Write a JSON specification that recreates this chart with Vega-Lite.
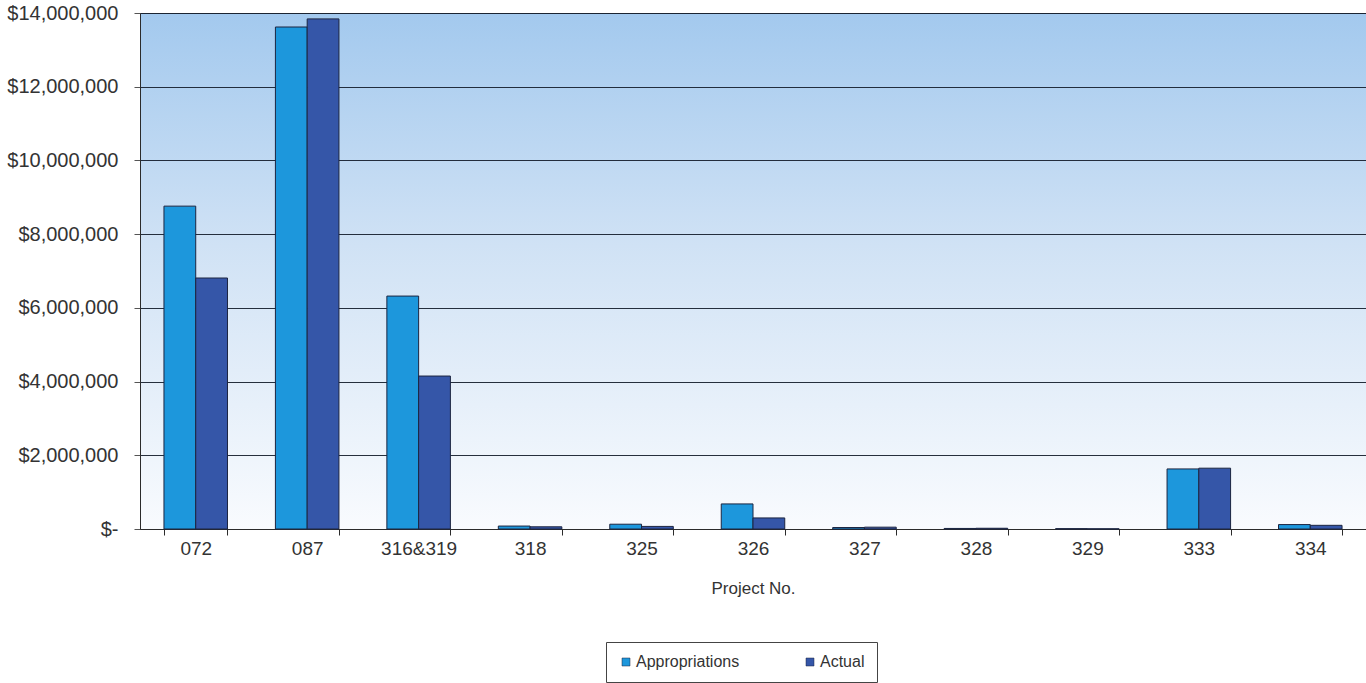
{
  "$schema": "https://vega.github.io/schema/vega-lite/v6.json",
  "width": 1226,
  "height": 516,
  "autosize": {"type": "none"},
  "padding": {"left": 140, "top": 13, "right": 0, "bottom": 154},
  "background": "#ffffff",
  "config": {
    "font": "Liberation Sans",
    "view": {
      "stroke": "#2b2b2b",
      "strokeWidth": 1,
      "fill": {
        "gradient": "linear",
        "x1": 0, "y1": 0, "x2": 0, "y2": 1,
        "stops": [
          {"offset": 0, "color": "#a3c9ee"},
          {"offset": 0.45, "color": "#d0e2f5"},
          {"offset": 1, "color": "#f9fbfe"}
        ]
      }
    }
  },
  "data": {
    "values": [
      {"project": "072", "series": "Appropriations", "amount": 8760000},
      {"project": "072", "series": "Actual", "amount": 6810000},
      {"project": "087", "series": "Appropriations", "amount": 13620000},
      {"project": "087", "series": "Actual", "amount": 13840000},
      {"project": "316&319", "series": "Appropriations", "amount": 6320000},
      {"project": "316&319", "series": "Actual", "amount": 4150000},
      {"project": "318", "series": "Appropriations", "amount": 80000},
      {"project": "318", "series": "Actual", "amount": 60000},
      {"project": "325", "series": "Appropriations", "amount": 130000},
      {"project": "325", "series": "Actual", "amount": 70000},
      {"project": "326", "series": "Appropriations", "amount": 680000},
      {"project": "326", "series": "Actual", "amount": 300000},
      {"project": "327", "series": "Appropriations", "amount": 40000},
      {"project": "327", "series": "Actual", "amount": 50000},
      {"project": "328", "series": "Appropriations", "amount": 15000},
      {"project": "328", "series": "Actual", "amount": 20000},
      {"project": "329", "series": "Appropriations", "amount": 10000},
      {"project": "329", "series": "Actual", "amount": 5000},
      {"project": "333", "series": "Appropriations", "amount": 1630000},
      {"project": "333", "series": "Actual", "amount": 1650000},
      {"project": "334", "series": "Appropriations", "amount": 120000},
      {"project": "334", "series": "Actual", "amount": 100000}
    ]
  },
  "mark": {"type": "bar", "stroke": "#1c2540", "strokeWidth": 1},
  "encoding": {
    "x": {
      "field": "project",
      "type": "nominal",
      "sort": null,
      "scale": {"paddingInner": 0.43, "paddingOuter": 0.215},
      "axis": {
        "title": "Project No.",
        "titleFont": "Liberation Sans",
        "titleFontSize": 17,
        "titleFontWeight": "normal",
        "titleColor": "#333333",
        "titlePadding": 22,
        "labelAngle": 0,
        "labelFontSize": 19,
        "labelColor": "#333333",
        "labelPadding": 4,
        "tickBand": "extent",
        "tickSize": 6,
        "tickColor": "#2b2b2b",
        "domainColor": "#2b2b2b",
        "grid": false
      }
    },
    "xOffset": {
      "field": "series",
      "type": "nominal",
      "sort": ["Appropriations", "Actual"],
      "scale": {"paddingInner": 0, "paddingOuter": 0}
    },
    "y": {
      "field": "amount",
      "type": "quantitative",
      "scale": {"domain": [0, 14000000], "nice": false},
      "axis": {
        "title": null,
        "values": [0, 2000000, 4000000, 6000000, 8000000, 10000000, 12000000, 14000000],
        "labelExpr": "datum.value == 0 ? '$-' : '$' + format(datum.value, ',')",
        "labelFontSize": 20,
        "labelColor": "#333333",
        "labelPadding": 16,
        "tickSize": 6,
        "tickColor": "#555555",
        "domainColor": "#2b2b2b",
        "gridColor": "#1a2433",
        "gridWidth": 1,
        "gridOpacity": 0.95
      }
    },
    "color": {
      "field": "series",
      "type": "nominal",
      "sort": ["Appropriations", "Actual"],
      "scale": {"domain": ["Appropriations", "Actual"], "range": ["#1d97dc", "#3556a8"]},
      "legend": {
        "title": null,
        "orient": "none",
        "legendX": 466,
        "legendY": 629,
        "direction": "horizontal",
        "symbolType": "square",
        "symbolSize": 64,
        "symbolStrokeColor": "#1c2540",
        "symbolStrokeWidth": 0.5,
        "labelFontSize": 16,
        "labelColor": "#333333",
        "labelOffset": 2,
        "gridAlign": "all",
        "columnPadding": 62,
        "padding": 12,
        "strokeColor": "#444444",
        "fillColor": "#ffffff"
      }
    }
  }
}
